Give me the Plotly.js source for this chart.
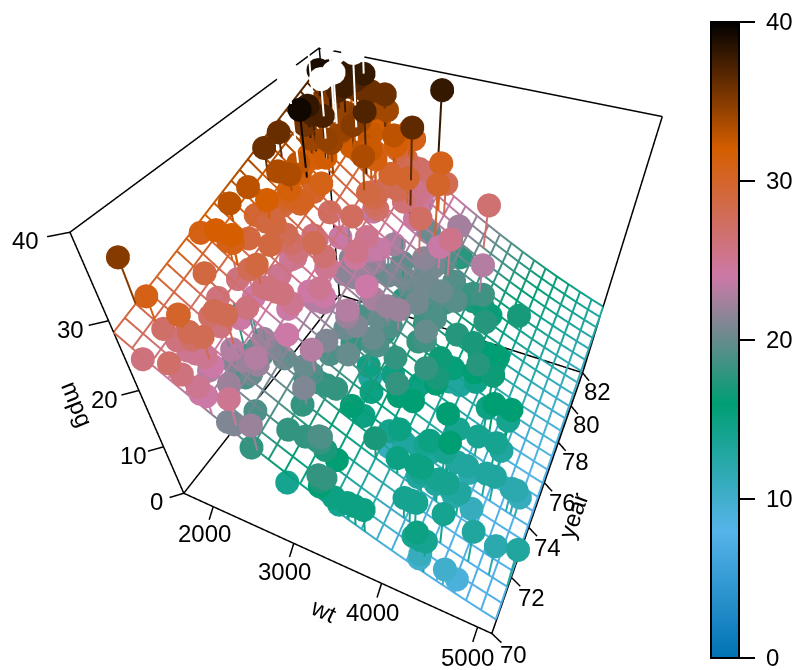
<!DOCTYPE html><html><head><meta charset="utf-8"><script src="https://cdn.plot.ly/plotly-3.0.1.min.js"></script></head><body style="margin:0;background:#fff"><div id="g" style="width:801px;height:670px"></div>
<script>
// [mpg, wt] per model year
const cars70=[[18,3504],[15,3693],[18,3436],[16,3433],[17,3449],[15,4341],[14,4354],[14,4312],[14,4425],[15,3850],[15,3563],[14,3609],[15,3761],[14,3086],[24,2372],[22,2833],[18,2774],[21,2587],[27,2130],[26,1835],[25,2672],[24,2430],[25,2375],[26,2234],[21,2648],[10,4615],[10,4376],[11,4382],[9,4732]];
const cars71=[[27,2130],[28,2264],[25,2228],[25,2046],[19,2634],[16,3439],[17,3329],[19,3302],[18,3288],[14,4209],[14,4464],[14,4154],[14,4096],[12,4955],[13,4746],[13,5140],[18,2962],[22,2408],[19,3282],[18,3139],[23,2220],[28,2123],[30,2074],[30,2065],[31,1773],[35,1613],[27,1834],[26,1955],[24,2278],[25,2126]];
const cars72=[[23,2254],[20,2408],[21,2226],[13,4274],[14,4385],[15,4135],[14,4129],[17,3672],[11,4633],[13,4502],[12,4456],[13,4422],[19,2330],[15,3892],[13,4098],[14,4294],[15,4077],[18,2933],[22,2511],[21,2979],[26,2189],[22,2395],[28,2288],[23,2506],[28,2164],[27,2100]];
const cars73=[[13,4100],[14,3672],[13,3988],[14,4042],[15,3777],[12,4952],[13,4464],[13,4363],[14,4237],[13,4735],[12,4951],[13,3821],[18,3121],[16,3278],[18,2945],[18,3021],[23,2904],[26,1950],[11,4997],[12,4906],[13,4654],[12,4499],[18,2789],[20,2279],[21,2401],[22,2379],[18,2124],[19,2310],[21,2472],[26,2265],[15,4082],[16,4278],[29,1867],[24,2158],[20,2582],[19,2868],[15,3399],[24,2660],[20,2807],[11,3664]];
const cars74=[[20,3102],[21,2875],[19,2901],[15,3336],[31,1950],[26,2451],[32,1836],[25,2542],[16,3781],[16,3632],[18,3613],[16,4141],[13,4699],[14,4457],[14,4638],[14,4257],[29,2219],[26,1963],[26,2300],[31,1649],[32,2003],[28,2125],[24,2108],[26,2246],[24,2489],[26,2391],[31,2000]];
const cars75=[[19,3264],[18,3459],[15,3432],[15,3158],[16,4668],[15,4440],[16,4498],[14,4657],[17,3907],[16,3897],[15,3730],[18,3785],[21,3039],[20,3221],[13,3169],[29,2171],[23,2639],[20,2914],[23,2592],[24,2702],[25,2223],[24,2545],[18,2984],[29,1937],[19,3211],[23,2694],[23,2957],[22,2945],[25,2671],[33,1795]];
const cars76=[[28,2464],[25,2220],[25,2572],[26,2255],[27,2202],[17.5,4215],[16,4190],[15.5,3962],[14.5,4215],[22,3233],[22,3353],[24,3012],[22.5,3085],[29,2035],[24.5,2164],[29,1937],[33,1795],[20,3651],[18,3574],[18.5,3645],[17.5,3193],[29.5,1825],[32,1990],[28,2155],[26.5,2565],[20,3150],[13,3940],[19,3270],[19,2930],[16.5,3820],[16.5,4380],[13,4055],[13,3870],[13,3755]];
const cars77=[[31.5,2045],[30,2155],[36,1825],[25.5,2300],[33.5,1945],[17.5,3880],[17,4060],[15.5,4140],[15,4295],[17.5,3520],[20.5,3425],[19,3630],[18.5,3525],[16,4220],[15.5,4165],[15.5,4325],[16,4335],[29,1940],[24.5,2740],[26,2265],[25.5,2755],[30.5,2051],[33.5,2075],[30,1985],[30.5,2190],[22,2815],[21.5,2600],[21.5,2720]];
const cars78=[[43.1,1985],[36.1,1800],[32.8,1985],[39.4,2070],[36.1,1800],[19.9,3365],[19.4,3735],[20.2,3570],[19.2,3535],[20.5,3155],[20.2,2965],[25.1,2720],[20.5,3430],[19.4,3210],[20.6,3380],[20.8,3070],[18.6,3620],[18.1,3410],[19.2,3425],[17.7,3445],[18.1,3205],[17.5,4080],[30,2155],[27.5,2560],[27.2,2300],[30.9,2230],[21.1,2515],[23.2,2745],[23.8,2855],[23.9,2405],[20.3,2830],[17,3140],[21.6,2795],[16.2,3410],[31.5,1990],[29.5,2135]];
const cars79=[[21.5,3245],[19.8,2990],[22.3,2890],[20.2,3265],[20.6,3360],[17,3840],[17.6,3725],[16.5,3955],[18.2,3830],[16.9,4360],[15.5,4054],[19.2,3605],[18.5,3940],[31.9,1925],[34.1,1975],[35.7,1915],[27.4,2670],[25.4,3530],[23,3900],[27.2,3190],[23.9,3420],[34.2,2200],[34.5,2150],[31.8,2020],[37.3,2130],[28.4,2670],[28.8,2595],[26.8,2700],[33.5,2556],[41.5,2144],[38.1,1968],[32.1,2120],[37.2,2019]];
const cars80=[[28,2678],[26.4,2870],[24.3,3003],[19.1,3381],[34.3,2188],[29.8,2711],[31.3,2542],[37,2434],[32.2,2265],[46.6,2110],[27.9,2800],[40.8,2110],[44.3,2085],[43.4,2335],[36.4,2950],[30,3250],[44.6,1850],[33.8,2145],[29.8,2910],[32.7,2420],[23.7,2500],[35,2290],[32.4,2490]];
const cars81=[[27.2,2635],[26.6,2620],[25.8,2725],[23.5,2385],[30,1755],[39.1,1875],[39,1760],[35.1,1760],[32.3,2065],[37,1975],[37.7,2050],[34.1,1985],[34.7,2215],[34.4,2045],[29.9,2380],[33,2190],[33.7,2210],[32.4,2350],[32.9,2615],[31.6,2635],[28.1,3230],[30.7,3160],[25.4,2900],[24.2,2930],[22.4,3415],[26.6,3725],[20.2,3060],[17.6,3465]];
const cars82=[[28,2605],[27,2640],[34,2395],[31,2575],[29,2525],[27,2735],[24,2865],[36,1980],[37,2025],[31,1970],[38,2125],[36,2125],[36,2160],[36,2205],[34,2245],[38,1965],[32,1965],[38,1995],[25,2945],[38,3015],[26,2585],[22,2835],[32,2665],[36,2370],[27,2950],[27,2790],[44,2130],[32,2295],[28,2625],[31,2720]];
const carsByYear=[cars70,cars71,cars72,cars73,cars74,cars75,cars76,cars77,cars78,cars79,cars80,cars81,cars82];
// Fitted surface: height along wt at year 70, and the rise per half year
const surfaceAt70=[28.5,27.09,25.7,24.36,23.05,21.77,20.53,19.32,18.14,17,15.89,14.81,13.77,12.77,11.79,10.85,9.95,9.07,8.23,7.42,6.64,5.9,5.19,4.51,3.87];
const surfaceRise=[0,.39,.78,1.18,1.57,1.96,2.35,2.74,3.13,3.53,3.92,4.31,4.7,5.09,5.48,5.88,6.27,6.66,7.05,7.44,7.83,8.23,8.62,9.01,9.4];
const wtTicks=[2000,3000,4000,5000],yearTicks=[70,72,74,76,78,80,82],mpgTicks=[0,10,20,30,40];
const WT=[1613,5140],YR=[70,82],MP=[0,40];
const meshColourFloor=7.5;
const ramp=[[0,'#0072B2'],[.2,'#56B4E9'],[.4,'#009E73'],[.6,'#CC79A7'],[.8,'#D55E00'],[1,'#000000']];
const FONT='"Liberation Sans",Arial,sans-serif',FS=24;
const wtAt=i=>WT[0]+(WT[1]-WT[0])*i/(surfaceAt70.length-1), yrAt=j=>YR[0]+(YR[1]-YR[0])*j/(surfaceRise.length-1);
function surf(w,y){const n=surfaceAt70.length-1,fi=Math.min(n-1e-9,(w-WT[0])/(WT[1]-WT[0])*n),i=Math.floor(fi),a=surfaceAt70[i]+(surfaceAt70[i+1]-surfaceAt70[i])*(fi-i);
 const m=surfaceRise.length-1,fj=Math.min(m-1e-9,(y-YR[0])/(YR[1]-YR[0])*m),j=Math.floor(fj),b=surfaceRise[j]+(surfaceRise[j+1]-surfaceRise[j])*(fj-j);return a+b;}
const wt=[],year=[],mpg=[],wWhite=[],yWhite=[],mWhite=[];
carsByYear.forEach((rows,k)=>rows.forEach(r=>{const yy=70+k;if(r[0]>40){wWhite.push(r[1]);yWhite.push(yy);mWhite.push(r[0]);}else{wt.push(r[1]);year.push(yy);mpg.push(r[0]);}}));
const mx=[],my=[],mz=[],mc=[];
function push(a,b,c){mx.push(a);my.push(b);mz.push(c);mc.push(c===null?0:Math.max(c,meshColourFloor));}
surfaceRise.forEach((r,j)=>{surfaceAt70.forEach((h,i)=>push(wtAt(i),yrAt(j),h+r));push(null,null,null);});
surfaceAt70.forEach((h,i)=>{surfaceRise.forEach((r,j)=>push(wtAt(i),yrAt(j),h+r));push(null,null,null);});
const dx=[],dy=[],dz=[],dc=[];
wt.forEach((w,i)=>{dx.push(w,w,null);dy.push(year[i],year[i],null);dz.push(mpg[i],surf(w,year[i]),null);dc.push(mpg[i],mpg[i],0);});
const wx=[],wy=[],wz=[];wWhite.forEach((w,i)=>{wx.push(w,w,null);wy.push(yWhite[i],yWhite[i],null);wz.push(mWhite[i],surf(w,yWhite[i]),null);});
const bx=[],by=[],bz=[];
function seg(a,b){bx.push(a[0],b[0],null);by.push(a[1],b[1],null);bz.push(a[2],b[2],null);}
const [w0,w1]=WT,[y0,y1]=YR,[z0,z1]=MP,dW=w1-w0,dY=y1-y0,dZ=z1-z0;
seg([w0,y0,z0],[w1,y0,z0]);seg([w0,y0,z0],[w0,y1,z0]);seg([w0,y1,z0],[w1,y1,z0]);seg([w1,y0,z0],[w1,y1,z0]);
seg([w0,y0,z0],[w0,y0,z1]);seg([w0,y0,z1],[w0,y1,z1]);seg([w0,y1,z0],[w0,y1,z1]);seg([w0,y1,z1],[w1,y1,z1]);seg([w1,y1,z0],[w1,y1,z1]);
const TL=.03,LBW=.062,LBY=.07,LBM=.058;
const notes=[];
function note(text,x,y,z,o){notes.push(Object.assign({text:String(text),x,y,z,showarrow:false,font:{family:FONT,size:FS,color:'#000'},xanchor:'center',yanchor:'middle'},o||{}));}
wtTicks.forEach(t=>{seg([t,y0,z0],[t,y0-TL*dY,z0-TL*dZ]);note(t,t,y0-LBW*dY,z0-LBW*dZ);});
yearTicks.forEach(t=>{seg([w1,t,z0],[w1+TL*dW,t,z0-TL*dZ]);note(t,w1+LBY*dW,t,z0-LBY*dZ);});
mpgTicks.forEach(t=>{seg([w0,y0,t],[w0-TL*dW,y0-TL*dY,t]);note(t,w0-LBM*dW,y0-LBM*dY,t);});
note('wt',(w0+w1)/2,y0-.105*dY,z0-.105*dZ,{textangle:25,xshift:13,yshift:-4});
note('year',w1+.11*dW,(y0+y1)/2,z0-.11*dZ,{textangle:-71,xshift:1,yshift:-2});
note('mpg',w0-.11*dW,y0-.11*dY,(z0+z1)/2,{textangle:68,xshift:4,yshift:3});
const K=.25,BX=1.0105,BY=1.0179;
const scatterBase={type:'scatter3d',hoverinfo:'skip',showlegend:false};
const data=[
 Object.assign({mode:'lines',x:bx,y:by,z:bz,line:{color:'#000',width:3}},scatterBase),
 Object.assign({mode:'lines',x:mx,y:my,z:mz,line:{color:mc,colorscale:ramp,cmin:0,cmax:40,width:4}},scatterBase),
 Object.assign({mode:'lines',x:dx,y:dy,z:dz,line:{color:dc,colorscale:ramp,cmin:0,cmax:40,width:4}},scatterBase),
 Object.assign({mode:'lines',x:wx,y:wy,z:wz,line:{color:'#fff',width:4}},scatterBase),
 Object.assign({mode:'markers',x:wt,y:year,z:mpg,marker:{size:14,color:mpg,colorscale:ramp,cmin:0,cmax:40,opacity:1,line:{width:0},showscale:true,
   colorbar:{x:711/801,xanchor:'left',xref:'paper',xpad:0,ypad:0,y:12/670,yanchor:'bottom',yref:'paper',lenmode:'pixels',len:636,thicknessmode:'pixels',thickness:28,outlinewidth:2,outlinecolor:'#000',borderwidth:0,ticks:'outside',ticklen:15,tickwidth:1.5,tickcolor:'#000',ticklabeloverflow:'allow',tickvals:mpgTicks,ticktext:mpgTicks.map(v=>'\u00a0'+v),tickfont:{family:FONT,size:FS,color:'#000'}}}},scatterBase),
 Object.assign({mode:'markers',x:wWhite,y:yWhite,z:mWhite,marker:{size:14,color:'#fff',opacity:1,line:{width:0}}},scatterBase)
];
const hide={visible:false,autorange:false,showspikes:false};
const pad=(r)=>[r[0]-K*(r[1]-r[0]),r[1]+K*(r[1]-r[0])];
const layout={width:801,height:670,margin:{l:0,r:0,t:0,b:0,autoexpand:false},paper_bgcolor:'#fff',showlegend:false,hovermode:false,
 scene:{domain:{x:[0,1],y:[0,1]},aspectmode:'manual',aspectratio:{x:(1+2*K)*BX,y:(1+2*K)*BY,z:(1+2*K)},
  xaxis:Object.assign({range:pad(WT)},hide),yaxis:Object.assign({range:pad(YR)},hide),zaxis:Object.assign({range:pad(MP)},hide),
  camera:{eye:{x:.5455,y:-1.2099,z:1.3016},center:{x:.011,y:-.0221,z:-.0243},up:{x:-.3009,y:.6468,z:.7007},projection:{type:'perspective'}},annotations:notes}};
Plotly.newPlot('g',data,layout,{displayModeBar:false}).then(gd=>{
 const sc=gd._fullLayout.scene._scene;
 sc.glplot.fovy=0.9474;
 sc.glplot.redraw&&sc.glplot.redraw();
});
</script></body></html>
